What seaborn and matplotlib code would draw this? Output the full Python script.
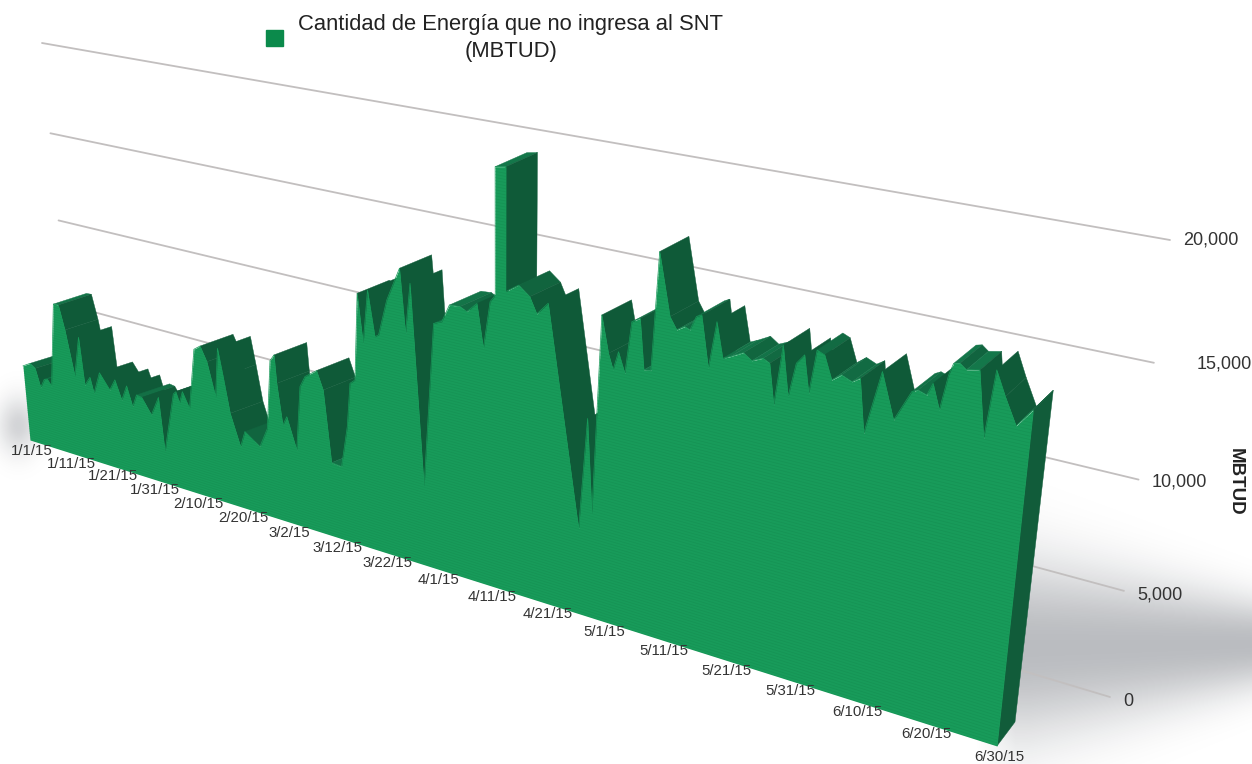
import numpy as np
import seaborn as sns
import matplotlib
matplotlib.use('Agg')
import matplotlib.pyplot as plt
from matplotlib.collections import PolyCollection
from matplotlib.colors import to_rgb
from matplotlib.patches import Patch
from matplotlib.path import Path
from matplotlib.transforms import Transform

# Days since 1/1/15 and MBTUD at each corner of the profile
days = [0.0, 1.9, 3.1, 4.1, 5.2, 6.0, 6.9, 9.2, 10.4, 11.5, 13.0, 14.7, 15.3, 16.7, 17.4, 19.1, 21.3, 22.7, 24.0, 25.4,
        26.5, 27.6, 28.8, 30.8, 32.7, 33.4, 36.2, 36.8, 37.5, 38.3, 39.7, 41.5, 42.9, 44.2, 45.7, 46.7, 47.6, 48.7,
        50.6, 51.7, 54.8, 56.6, 57.8, 58.7, 59.0, 59.9, 60.8, 62.6, 63.8, 64.9, 67.3, 68.5, 69.7, 71.7, 73.1, 73.9,
        74.9, 75.8, 76.7, 77.8, 79.0, 79.7, 81.4, 83.9, 84.8, 85.8, 87.8, 90.0, 91.5, 92.9, 94.8, 96.0, 97.8, 98.9,
        100.1, 100.8, 101.0, 101.0, 102.8, 102.8, 105.0, 106.9, 108.1, 110.0, 115.6, 116.8, 117.8, 118.8, 120.0,
        120.8, 121.6, 122.7, 123.6, 124.9, 125.7, 126.8, 127.6, 129.5, 130.6, 131.8, 132.6, 133.5, 134.3, 135.6,
        136.6, 137.7, 138.8, 140.7, 142.0, 143.6, 144.6, 145.5, 146.4, 147.5, 148.4, 149.5, 150.4, 151.2, 152.3,
        153.5, 154.8, 156.3, 157.4, 158.4, 160.3, 162.3, 164.4, 165.2, 166.4, 167.1, 168.2, 169.0, 169.5, 170.3,
        171.2, 172.9, 174.2, 175.0, 176.4, 178.1, 180.0]
mbtud = [4180, 4440, 4240, 3250, 3770, 3820, 3510, 8100, 8120, 6850, 4460, 6650, 4110, 4620, 3790, 5020, 4240, 4870,
         3870, 4720, 3680, 4380, 4330, 3530, 4590, 1730, 5000, 5160, 4630, 5260, 4480, 7660, 7910, 7190, 5490, 8030,
         6650, 4830, 3230, 4090, 3530, 4600, 8100, 8440, 7040, 5000, 5480, 3910, 7190, 7760, 8210, 7330, 3780, 3730,
         5830, 8010, 8240, 12420, 10110, 12680, 10570, 10690, 12420, 14020, 11080, 13440, 3930, 11840, 12010, 12850,
         12890, 12730, 13200, 11240, 13410, 13680, 13830, 19310, 19390, 14010, 14420, 14020, 13330, 13910, 4070, 9230,
         4950, 13910, 12320, 11650, 12490, 11620, 13900, 14120, 11960, 12000, 17060, 14460, 13970, 14180, 14090, 14700,
         14810, 12660, 14670, 13210, 13350, 13630, 13380, 13580, 13440, 11760, 14300, 12250, 13680, 14090, 12580, 14390,
         14260, 13320, 13610, 13430, 13640, 11470, 14100, 12280, 13560, 13680, 13560, 14070, 13090, 14520, 15000, 15060,
         14860, 14960, 12380, 15100, 14160, 13140, 13890]

date_ticks = [0, 10, 20, 30, 40, 50, 60, 70, 80, 90, 100, 110, 120, 130, 140, 150, 160, 170, 180]
date_labels = ['1/1/15', '1/11/15', '1/21/15', '1/31/15', '2/10/15', '2/20/15', '3/2/15', '3/12/15', '3/22/15',
               '4/1/15', '4/11/15', '4/21/15', '5/1/15', '5/11/15', '5/21/15', '5/31/15', '6/10/15', '6/20/15', '6/30/15']
value_ticks = [0, 5000, 10000, 15000, 20000]
value_labels = ['0', '5,000', '10,000', '15,000', '20,000']
legend_label = 'Cantidad de Energía que no ingresa al SNT\n(MBTUD)'


class Plane(Transform):
    # projective map from (day, value) to picture pixels, set by where the four corners land
    input_dims = 2
    output_dims = 2

    def __init__(self, p00, p10, p01, p11):
        super().__init__()
        src = [(0, 0), (1, 0), (0, 1), (1, 1)]
        A, b = [], []
        for (u, v), (x, y) in zip(src, [p00, p10, p01, p11]):
            A.append([u, v, 1, 0, 0, 0, -u * x, -v * x])
            A.append([0, 0, 0, u, v, 1, -u * y, -v * y])
            b += [x, y]
        self.H = np.append(np.linalg.solve(np.array(A, float), np.array(b, float)), 1).reshape(3, 3)

    def transform_non_affine(self, xy):
        xy = np.asarray(xy, float)
        p = np.c_[xy[:, 0] / 180, xy[:, 1] / 20000, np.ones(len(xy))] @ self.H.T
        return p[:, :2] / p[:, 2:]


front = Plane((30, 440), (997, 746), (-6, 64), (1051, 246))
back = Plane((63, 430), (1015, 722), (27, 52), (1072, 228))
wall = Plane((74, 386), (1110, 697), (42, 43), (1170, 240))

sns.set_theme(style='white')
plt.rcParams['font.family'] = ['Liberation Sans', 'DejaVu Sans']

fig = plt.figure(figsize=(12.52, 7.64), dpi=100)
ax = fig.add_axes([0, 0, 1, 1])

# soft shadow behind the block
xx, yy = np.meshgrid(np.arange(1252), np.arange(764))
centre = 648 - 0.02 * (xx - 1030)
half = np.clip(88 - 0.2 * (xx - 1030), 42, 88)
shade = 0.28 * np.exp(-(np.abs(yy - centre) / half) ** 2.2) * np.clip((xx - 975) / 40, 0, 1)
shade = np.maximum(shade, 0.18 * np.exp(-(((xx - 18) / 20) ** 2 + ((yy - 425) / 28) ** 2)))
rgba = np.zeros(xx.shape + (4,))
rgba[..., :3] = (0.04, 0.07, 0.12)
rgba[..., 3] = shade
ax.imshow(rgba, extent=[0, 1252, 764, 0], aspect='auto', zorder=0)

ax.set_xlim(0, 1252)
ax.set_ylim(764, 0)
ax.set_autoscale_on(False)
ax.axis('off')

# wall gridlines
for v in value_ticks:
    sns.lineplot(x=[0, 180], y=[v, v], ax=ax, color='#c2bfbf', lw=1.3, transform=wall + ax.transData, zorder=1)

# top faces, left to right so nearer ones paint over
fp = front.transform(np.c_[days, mbtud])
bp = back.transform(np.c_[days, mbtud])
flat = np.array(to_rgb('#14774a'))
steep = np.array(to_rgb('#0f5a38'))
polys, cols = [], []
for i in range(len(days) - 1):
    e = fp[i + 1] - fp[i]
    d = bp[i] - fp[i]
    if e[0] * d[1] - e[1] * d[0] >= 0:
        continue
    k = np.clip(abs(e[1]) / (abs(e[0]) + 1e-6) / 1.6, 0, 1)
    polys.append([fp[i], fp[i + 1], bp[i + 1], bp[i]])
    cols.append(flat + (steep - flat) * k)
end_base = [[180.0, 0.0]]
end_top = [[180.0, mbtud[-1]]]
polys.append([front.transform(end_base)[0], back.transform(end_base)[0], back.transform(end_top)[0], front.transform(end_top)[0]])
cols.append(np.array(to_rgb('#115c3a')))
ax.add_collection(PolyCollection(polys, facecolors=cols, edgecolors=cols, linewidths=0.3, zorder=2))

# front face
ax.fill_between(days, mbtud, 0, transform=front + ax.transData, color='#189b5a', lw=0, zorder=3)
sns.lineplot(x=days, y=mbtud, ax=ax, color='#189b5a', lw=0.5, sort=False, estimator=None,
             transform=front + ax.transData, zorder=3)

# faint brushed texture on the front
outline = np.r_[fp, front.transform([[180, 0], [0, 0]]), fp[:1]]
tex = ax.hlines(np.arange(0, 22000, 130), 0, 180, transform=front + ax.transData, color='#0f7f47', lw=0.5, alpha=0.3, zorder=4)
tex.set_clip_path(Path(outline), ax.transData)

# date labels under the front edge
for d, lab in zip(date_ticks, date_labels):
    ax.annotate(lab, (d, 0), xycoords=front + ax.transData, xytext=(2, -11), textcoords='offset pixels',
                ha='center', va='center', fontsize=10.8, color='#333333')

# value labels
label_x = [1123, 1137, 1152, 1197, 1183]
label_y = [702, 595, 482, 364, 240]
for x, y, lab in zip(label_x, label_y, value_labels):
    ax.text(x, y, lab, ha='left', va='center', fontsize=13, color='#333333')
ax.text(1235, 482, 'MBTUD', rotation=270, ha='center', va='center', fontsize=13.5, fontweight='bold', color='#222222')

leg = ax.legend(handles=[Patch(color='#0b8a4b', label=legend_label)],
                loc='upper left', bbox_to_anchor=(246 / 1252, 1 + 6 / 764), frameon=False, fontsize=15.8,
                handlelength=0.77, handleheight=0.77, handletextpad=0.72, labelcolor='#222222')
leg.get_texts()[0].set_multialignment('center')
leg.get_texts()[0].set_linespacing(1.4)

plt.savefig('out.png', dpi=100)
